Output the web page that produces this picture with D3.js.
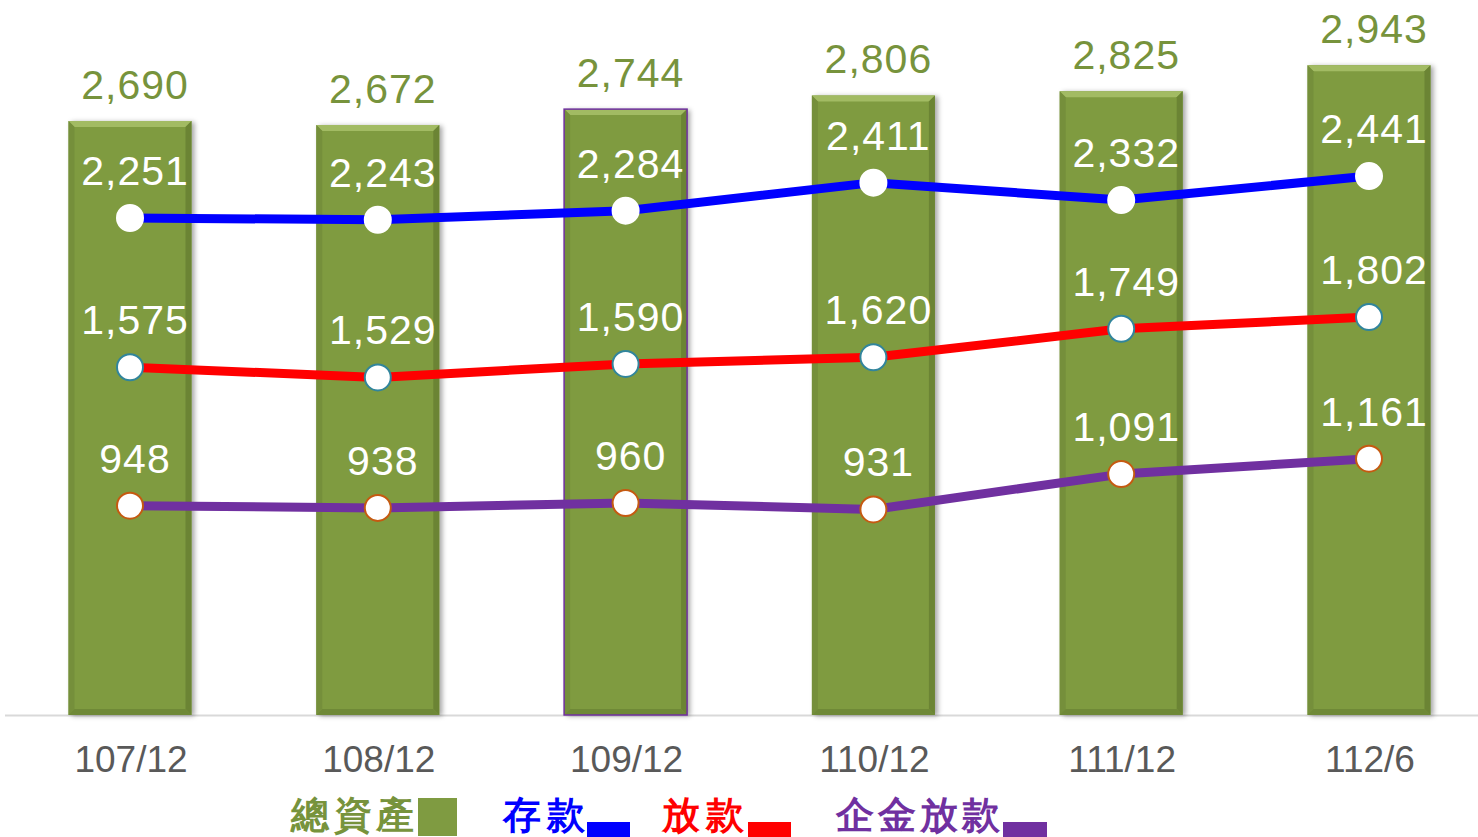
<!DOCTYPE html>
<html>
<head>
<meta charset="utf-8">
<script src="https://cdn.jsdelivr.net/npm/d3@7"></script>
<style>
  body { margin: 0; background: #fff; }
  svg { display: block; }
  text { font-family: "Liberation Sans", Arial, sans-serif; }
</style>
</head>
<body>
<div id="chart"></div>
<script>
var categories = ['107/12', '108/12', '109/12', '110/12', '111/12', '112/6'];
var totalAssets = [2690, 2672, 2744, 2806, 2825, 2943];
var deposits = [2251, 2243, 2284, 2411, 2332, 2441];
var loans = [1575, 1529, 1590, 1620, 1749, 1802];
var corpLoans = [948, 938, 960, 931, 1091, 1161];
var legendNames = ['總資產', '存款', '放款', '企金放款'];

var W = 1478, H = 837,
    baseY = 715,
    barW = 123,
    bevel = 6,
    green = '#7f9b41',
    fmt = d3.format(',');

var svg = d3.select('#chart').append('svg')
    .attr('width', W)
    .attr('height', H);

var defs = svg.append('defs');
var shadow = defs.append('filter').attr('id', 'barShadow')
    .attr('x', '-20%').attr('y', '-10%').attr('width', '140%').attr('height', '120%');
shadow.append('feDropShadow')
    .attr('dx', 3).attr('dy', 1)
    .attr('stdDeviation', 2.5)
    .attr('flood-color', '#000')
    .attr('flood-opacity', 0.35);

var x = d3.scalePoint()
    .domain(categories)
    .range([130, 1369]);

var y = d3.scaleLinear()
    .domain([0, 3000])
    .range([baseY, baseY - 3000 * 0.2208]);

// baseline
svg.append('line')
    .attr('x1', 5).attr('x2', W)
    .attr('y1', baseY + 0.5).attr('y2', baseY + 0.5)
    .attr('stroke', '#d9d9d9')
    .attr('stroke-width', 2);

// bars with bevel
var bars = svg.append('g').selectAll('g')
    .data(categories)
    .join('g')
    .attr('transform', function (d) { return 'translate(' + (x(d) - barW / 2) + ',0)'; });

bars.append('rect')
    .attr('x', 0)
    .attr('y', function (d, i) { return y(totalAssets[i]); })
    .attr('width', barW)
    .attr('height', function (d, i) { return baseY - y(totalAssets[i]); })
    .attr('fill', green)
    .attr('filter', 'url(#barShadow)');

// top bevel (lighter)
bars.append('path')
    .attr('d', function (d, i) {
        var t = y(totalAssets[i]);
        return 'M0,' + t + 'L' + barW + ',' + t + 'L' + (barW - bevel) + ',' + (t + bevel) +
            'L' + bevel + ',' + (t + bevel) + 'Z';
    })
    .attr('fill', '#a2bb63');
// left bevel
bars.append('path')
    .attr('d', function (d, i) {
        var t = y(totalAssets[i]);
        return 'M0,' + t + 'L' + bevel + ',' + (t + bevel) + 'L' + bevel + ',' + (baseY - bevel) +
            'L0,' + baseY + 'Z';
    })
    .attr('fill', '#758f3b');
// right bevel
bars.append('path')
    .attr('d', function (d, i) {
        var t = y(totalAssets[i]);
        return 'M' + barW + ',' + t + 'L' + (barW - bevel) + ',' + (t + bevel) +
            'L' + (barW - bevel) + ',' + (baseY - bevel) + 'L' + barW + ',' + baseY + 'Z';
    })
    .attr('fill', '#6b8434');
// bottom bevel
bars.append('path')
    .attr('d', function () {
        return 'M0,' + baseY + 'L' + bevel + ',' + (baseY - bevel) + 'L' + (barW - bevel) + ',' +
            (baseY - bevel) + 'L' + barW + ',' + baseY + 'Z';
    })
    .attr('fill', '#6f8937');

// the 109/12 bar carries a thin purple outline
bars.filter(function (d, i) { return i === 2; })
    .append('rect')
    .attr('x', 0)
    .attr('y', function () { return y(totalAssets[2]); })
    .attr('width', barW)
    .attr('height', function () { return baseY - y(totalAssets[2]); })
    .attr('fill', 'none')
    .attr('stroke', '#7030a0')
    .attr('stroke-width', 1.5);

// total labels
svg.append('g').selectAll('text')
    .data(categories)
    .join('text')
    .attr('x', function (d) { return x(d) + 5; })
    .attr('y', function (d, i) { return y(totalAssets[i]) - 22; })
    .attr('text-anchor', 'middle')
    .attr('font-size', 41)
    .attr('letter-spacing', 1)
    .attr('fill', '#77933c')
    .text(function (d, i) { return fmt(totalAssets[i]); });

// lines
var series = [
    { values: deposits, color: '#0000ff', marker: '#ffffff' },
    { values: loans, color: '#ff0000', marker: '#31859c' },
    { values: corpLoans, color: '#7030a0', marker: '#c55a11' }
];

var line = d3.line()
    .x(function (d, i) { return x(categories[i]); })
    .y(function (d) { return y(d); });

series.forEach(function (s) {
    svg.append('path')
        .datum(s.values)
        .attr('d', line)
        .attr('fill', 'none')
        .attr('stroke', s.color)
        .attr('stroke-width', 9)
        .attr('stroke-linejoin', 'round');
});

series.forEach(function (s) {
    var g = svg.append('g');
    g.selectAll('circle')
        .data(s.values)
        .join('circle')
        .attr('cx', function (d, i) { return x(categories[i]); })
        .attr('cy', function (d) { return y(d); })
        .attr('r', 13)
        .attr('fill', '#fff')
        .attr('stroke', s.marker)
        .attr('stroke-width', 2);
    g.selectAll('text')
        .data(s.values)
        .join('text')
        .attr('x', function (d, i) { return x(categories[i]) + 5; })
        .attr('y', function (d) { return y(d) - 33; })
        .attr('text-anchor', 'middle')
        .attr('font-size', 41)
        .attr('letter-spacing', 1)
        .attr('fill', '#fff')
        .text(function (d) { return fmt(d); });
});

// category labels
svg.append('g').selectAll('text')
    .data(categories)
    .join('text')
    .attr('x', function (d) { return x(d) + 1; })
    .attr('y', 772)
    .attr('text-anchor', 'middle')
    .attr('font-size', 37)
    .attr('fill', '#595959')
    .text(function (d) { return d; });

// legend
var legend = [
    { name: legendNames[0], color: '#77933c', swatch: green, tx: 291, sx: 418, sy: 798, sw: 39, sh: 38 },
    { name: legendNames[1], color: '#0000ff', swatch: '#0000ff', tx: 503, sx: 587, sy: 822, sw: 43, sh: 15 },
    { name: legendNames[2], color: '#ff0000', swatch: '#ff0000', tx: 662, sx: 748, sy: 822, sw: 43, sh: 15 },
    { name: legendNames[3], color: '#7030a0', swatch: '#7030a0', tx: 836, sx: 1003, sy: 822, sw: 44, sh: 15 }
];
var lg = svg.append('g').selectAll('g')
    .data(legend)
    .join('g');
lg.append('text')
    .attr('x', function (d) { return d.tx; })
    .attr('y', 828)
    .attr('font-size', 38)
    .attr('font-weight', 700)
    .attr('font-family', '"Noto Sans CJK TC", sans-serif')
    .attr('fill', function (d) { return d.color; })
    .attr('textLength', function (d) { return d.name.length * 41; })
    .text(function (d) { return d.name; });
lg.append('rect')
    .attr('x', function (d) { return d.sx; })
    .attr('y', function (d) { return d.sy; })
    .attr('width', function (d) { return d.sw; })
    .attr('height', function (d) { return d.sh; })
    .attr('fill', function (d) { return d.swatch; });
</script>
</body>
</html>
